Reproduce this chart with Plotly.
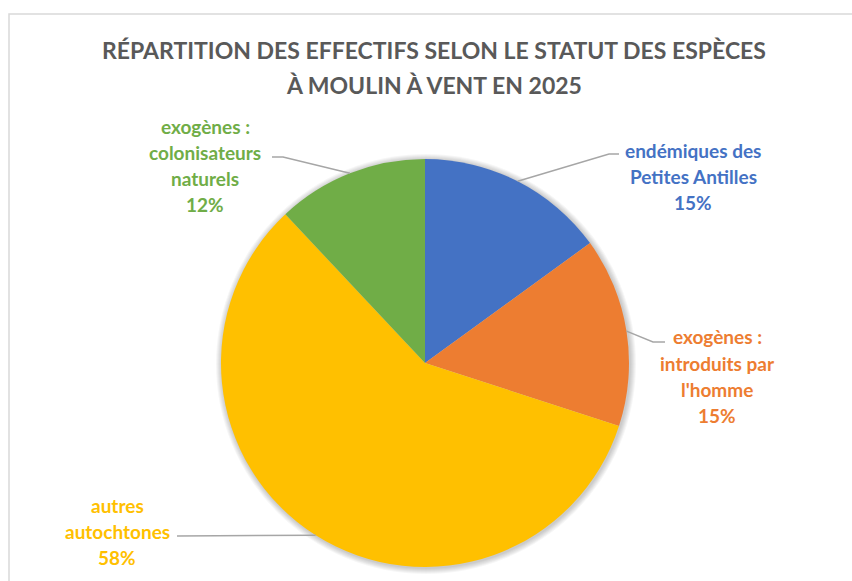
import math
import plotly.graph_objects as go

# Share of individuals by species status
categories = [
    "endémiques des<br>Petites Antilles",
    "exogènes :<br>introduits par<br>l'homme",
    "autres<br>autochtones",
    "exogènes :<br>colonisateurs<br>naturels",
]
values = [15, 15, 58, 12]
colors = ["#4472C4", "#ED7D31", "#FFC000", "#70AD47"]

title_lines = [
    "RÉPARTITION DES EFFECTIFS SELON LE STATUT DES ESPÈCES",
    "À MOULIN À VENT EN 2025",
]

# ---- layout geometry (pixels) ----
W, H = 852, 581
CX, CY, R = 425, 363, 204
FONT = "Lato"


def px(x):
    return x / W


def py(y):
    return 1 - y / H


# label block placement: centre x, first line centre y, leader elbow, leader end
label_pos = [
    dict(x=693, y=150, elbow=(609, 154), end=(619, 154)),
    dict(x=717, y=337, elbow=(653, 342), end=(665, 342)),
    dict(x=117, y=505, elbow=None, end=(177, 536)),
    dict(x=205, y=126, elbow=(283, 157), end=(272, 157)),
]
LINE_STEP = 26

fig = go.Figure(
    go.Pie(
        labels=[c.replace("<br>", " ") for c in categories],
        values=values,
        sort=False,
        direction="clockwise",
        rotation=0,
        marker=dict(colors=colors, line=dict(width=0)),
        textinfo="none",
        hoverinfo="label+percent",
        showlegend=False,
        domain=dict(x=[px(CX - R), px(CX + R)], y=[py(CY + R), py(CY - R)]),
    )
)

shapes = []
# chart frame
shapes.append(dict(type="rect", xref="paper", yref="paper",
                   x0=px(9), x1=1.05, y0=-0.05, y1=py(14),
                   line=dict(color="#D9D9D9", width=1.5), layer="below"))
# soft shadow around the pie
for k in range(1, 7):
    rr = R + k
    shapes.append(dict(type="circle", xref="paper", yref="paper",
                       x0=px(CX - rr + 1), x1=px(CX + rr + 1),
                       y0=py(CY + rr + 1), y1=py(CY - rr + 1),
                       fillcolor="rgba(0,0,0,0.035)", line=dict(width=0),
                       layer="below"))

annotations = []
total = sum(values)
start = 0.0
for cat, val, col, pos in zip(categories, values, colors, label_pos):
    span = val / total * 360
    mid = math.radians(start + span / 2)
    start += span
    ax, ay = CX + R * math.sin(mid), CY - R * math.cos(mid)
    pts = [(ax, ay)]
    if pos["elbow"]:
        pts.append(pos["elbow"])
    pts.append(pos["end"])
    path = "M " + " L ".join(f"{px(x)},{py(y)}" for x, y in pts)
    shapes.append(dict(type="path", xref="paper", yref="paper", path=path,
                       line=dict(color="#A6A6A6", width=1.5)))
    lines = cat.split("<br>") + [f"{val / total * 100:.0f}%"]
    for i, t in enumerate(lines):
        annotations.append(dict(
            text=f"<b>{t}</b>", xref="paper", yref="paper",
            x=px(pos["x"]), y=py(pos["y"] + i * LINE_STEP),
            xanchor="center", yanchor="middle", showarrow=False,
            font=dict(family=FONT, size=19, color=col)))

for i, t in enumerate(title_lines):
    annotations.append(dict(
        text=f"<b>{t}</b>", xref="paper", yref="paper",
        x=px(434), y=py(50 + i * 35), xanchor="center", yanchor="middle",
        showarrow=False, font=dict(family=FONT, size=23, color="#595959")))

fig.update_layout(
    width=W, height=H,
    margin=dict(l=0, r=0, t=0, b=0),
    paper_bgcolor="white",
    plot_bgcolor="white",
    shapes=shapes,
    annotations=annotations,
)

fig.write_html("out.html")
